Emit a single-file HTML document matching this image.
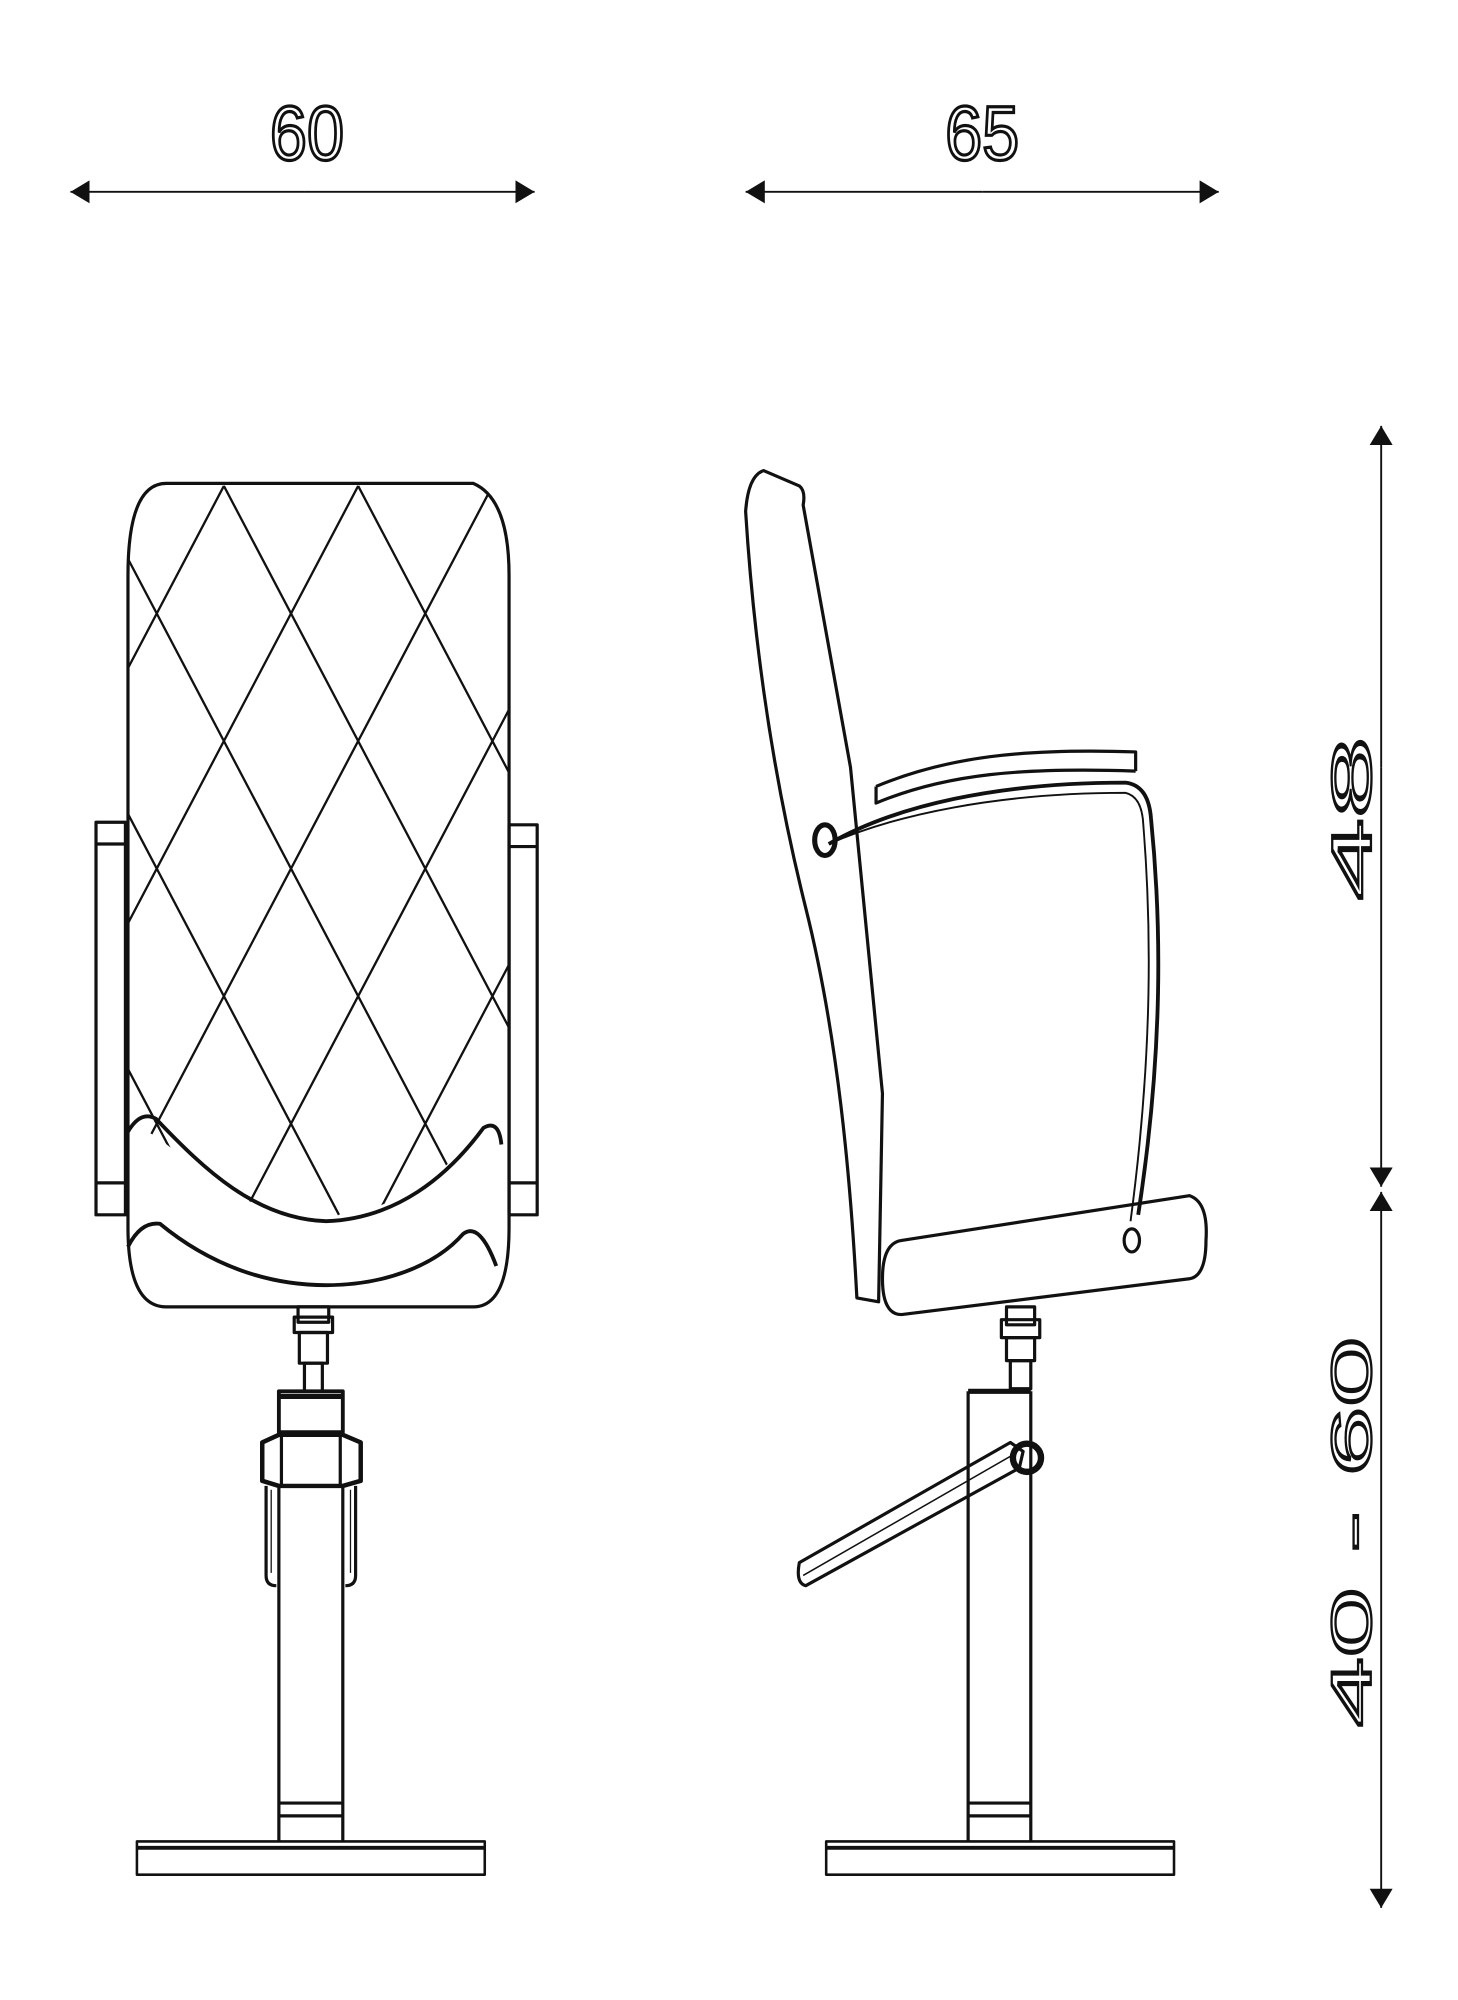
<!DOCTYPE html>
<html><head><meta charset="utf-8"><style>html,body{margin:0;padding:0;background:#fff}svg{display:block}</style></head>
<body>
<svg width="1458" height="2000" viewBox="0 0 1140 1564" xmlns="http://www.w3.org/2000/svg">
<defs>
<marker id="ah" markerWidth="16" markerHeight="18" refX="15" refY="9" orient="auto" markerUnits="userSpaceOnUse">
<path d="M0,0 L15,9 L0,18 Z" fill="#111"/></marker>
<clipPath id="qc"><path d="M100,880 L100,440 Q100,378 130,378 L370,378 Q398,390 398,440 L398,880 C370,880 330,950 250,953 C170,950 130,880 100,880 Z"/></clipPath>
</defs>
<g font-family="Liberation Sans, sans-serif" fill="#fff" stroke="#111" stroke-width="2.5">
<text x="240" y="125" font-size="60" text-anchor="middle" textLength="58" lengthAdjust="spacingAndGlyphs">60</text>
<text x="768" y="125" font-size="60" text-anchor="middle" textLength="58" lengthAdjust="spacingAndGlyphs">65</text>
</g>
<g font-family="Liberation Sans, sans-serif" fill="#fff" stroke="#111" stroke-width="1.8">
<text transform="translate(1072,640) rotate(-90)" font-size="44" text-anchor="middle" textLength="128" lengthAdjust="spacingAndGlyphs">48</text>
<text transform="translate(1072,1198) rotate(-90)" font-size="44" text-anchor="middle" textLength="305" lengthAdjust="spacingAndGlyphs">40 - 60</text>
</g>
<g stroke="#111" stroke-width="1.5" fill="none">
<line x1="238" y1="150" x2="55" y2="150" marker-end="url(#ah)"/>
<line x1="238" y1="150" x2="418" y2="150" marker-end="url(#ah)"/>
<line x1="768" y1="150" x2="583" y2="150" marker-end="url(#ah)"/>
<line x1="768" y1="150" x2="953" y2="150" marker-end="url(#ah)"/>
<line x1="1080" y1="600" x2="1080" y2="333" marker-end="url(#ah)"/>
<line x1="1080" y1="600" x2="1080" y2="928" marker-end="url(#ah)"/>
<line x1="1080" y1="1200" x2="1080" y2="932" marker-end="url(#ah)"/>
<line x1="1080" y1="1200" x2="1080" y2="1492" marker-end="url(#ah)"/>
</g>
<!-- front chair -->
<g stroke="#111" stroke-width="2.5" fill="none" stroke-linejoin="round">
<g clip-path="url(#qc)" stroke-width="1.8">
<path d="M175,380 l-300,570 M280,380 l-300,570 M385,380 l-300,570 M490,380 l-300,570 M595,380 l-300,570 M700,380 l-300,570 M805,380 l-300,570
M175,380 l300,570 M280,380 l300,570 M70,380 l300,570 M-35,380 l300,570 M-140,380 l300,570 M-245,380 l300,570 M-350,380 l300,570"/>
</g>
<path d="M100,450 Q100,378 130,378 L370,378 Q398,390 398,450 L398,960 Q398,1022 370,1022 L130,1022 Q100,1022 100,960 Z"/>
<path d="M100,885 Q110,868 122,875 C160,915 200,953 255,955 C310,953 350,920 378,882 Q390,875 392,895" stroke-width="3"/>
<path d="M100,975 Q110,955 125,957 C165,990 210,1005 255,1005 C300,1005 340,990 362,965 Q375,955 388,990" stroke-width="3"/>
<rect x="75" y="643" width="23" height="307"/>
<line x1="75" y1="660" x2="98" y2="660"/><line x1="75" y1="925" x2="98" y2="925"/>
<rect x="398" y="645" width="22" height="305"/>
<line x1="398" y1="662" x2="420" y2="662"/><line x1="398" y1="925" x2="420" y2="925"/>
<rect x="233" y="1022" width="24" height="12"/>
<rect x="230" y="1030" width="30" height="12"/>
<rect x="234" y="1042" width="22" height="24"/>
<rect x="238" y="1066" width="14" height="22"/>
<rect x="218" y="1088" width="50" height="32" stroke-width="3"/>
<line x1="218" y1="1092" x2="268" y2="1092" stroke-width="4"/>
<path d="M205,1128 L218,1122 L268,1122 L282,1128 L282,1158 L268,1162 L218,1162 L205,1158 Z" stroke-width="3.5"/>
<line x1="220" y1="1122" x2="220" y2="1162"/><line x1="266" y1="1122" x2="266" y2="1162"/>
<path d="M208,1162 L208,1232 Q208,1240 216,1240 M278,1162 L278,1232 Q278,1240 270,1240"/>
<line x1="212" y1="1165" x2="212" y2="1230" stroke-width="1"/><line x1="274" y1="1165" x2="274" y2="1230" stroke-width="1"/>
<line x1="218" y1="1162" x2="218" y2="1440"/><line x1="268" y1="1162" x2="268" y2="1440"/>
<line x1="218" y1="1410" x2="268" y2="1410"/><line x1="218" y1="1420" x2="268" y2="1420"/>
<rect x="107" y="1440" width="272" height="26" stroke-width="2"/>
<line x1="107" y1="1445" x2="379" y2="1445" stroke-width="3"/>
</g>
<!-- side chair -->
<g stroke="#111" stroke-width="2.5" fill="none" stroke-linejoin="round">
<path d="M583,400 Q585,372 597,368 L625,380 Q630,384 628,395 L665,600 L690,855 L687,1018 L670,1015 C665,920 655,810 630,710 C600,590 588,480 583,400 Z"/>
<path d="M685,615 L685,628 C740,605 800,600 888,603 M685,615 C740,592 800,585 888,588 L888,603"/>
<path d="M648,660 C700,630 780,612 880,612 Q898,614 900,640 C908,720 910,820 890,950" stroke-width="3"/>
<path d="M648,660 C700,637 780,620 880,620 Q893,623 894,645 C900,720 902,820 884,955" stroke-width="1.5"/>
<ellipse cx="645" cy="657" rx="8" ry="12" stroke-width="4"/>
<path d="M705,970 L930,935 Q945,940 943,970 Q943,998 930,1000 L705,1028 Q690,1028 690,1000 Q690,972 705,970 Z"/>
<ellipse cx="885" cy="970" rx="6" ry="9"/>
<rect x="787" y="1022" width="22" height="14"/>
<rect x="783" y="1032" width="30" height="14"/>
<rect x="787" y="1046" width="22" height="18"/>
<rect x="790" y="1064" width="16" height="22"/>
<line x1="757" y1="1088" x2="806" y2="1088" stroke-width="4"/>
<line x1="757" y1="1088" x2="757" y2="1440"/><line x1="806" y1="1088" x2="806" y2="1440"/>
<line x1="757" y1="1410" x2="806" y2="1410"/><line x1="757" y1="1420" x2="806" y2="1420"/>
<path d="M625,1222 L790,1128 L800,1135 L797,1148 L630,1240 Q622,1238 625,1222 Z"/>
<line x1="628" y1="1232" x2="795" y2="1136" stroke-width="1.2"/>
<circle cx="803" cy="1140" r="11" stroke-width="5"/>
<rect x="646" y="1440" width="272" height="26" stroke-width="2"/>
<line x1="646" y1="1445" x2="918" y2="1445" stroke-width="3"/>
</g>
</svg>
</body></html>
